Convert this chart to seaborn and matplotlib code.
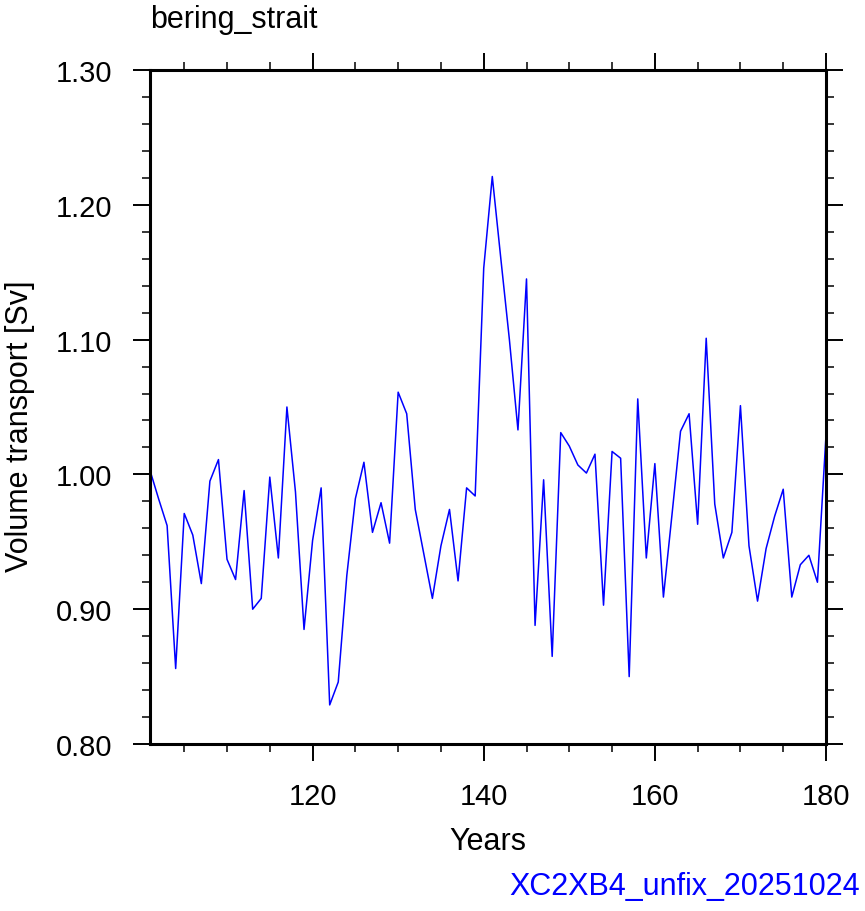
import numpy as np
import matplotlib
matplotlib.use('Agg')
import matplotlib.pyplot as plt
import seaborn as sns
from matplotlib.ticker import MultipleLocator, FormatStrFormatter

# 年份与海峡体积输运 (Sv)
years = np.arange(101, 181)
transport = [
    1.003, 0.982, 0.962, 0.856, 0.971, 0.955, 0.919, 0.995, 1.011, 0.937,
    0.922, 0.988, 0.900, 0.908, 0.998, 0.938, 1.050, 0.987, 0.885, 0.951,
    0.990, 0.829, 0.846, 0.925, 0.982, 1.009, 0.957, 0.979, 0.949, 1.061,
    1.045, 0.974, 0.941, 0.908, 0.947, 0.974, 0.921, 0.990, 0.984, 1.153,
    1.221, 1.160, 1.100, 1.033, 1.145, 0.888, 0.996, 0.865, 1.031, 1.021,
    1.007, 1.001, 1.015, 0.903, 1.017, 1.012, 0.850, 1.056, 0.938, 1.008,
    0.909, 0.970, 1.032, 1.045, 0.963, 1.101, 0.978, 0.938, 0.957, 1.051,
    0.947, 0.906, 0.945, 0.969, 0.989, 0.909, 0.933, 0.940, 0.920, 1.029,
]
title = 'bering_strait'
case_name = 'XC2XB4_unfix_20251024'

sns.set_style('ticks')
plt.rcParams['font.family'] = ['Liberation Sans', 'DejaVu Sans']
plt.rcParams['text.color'] = 'black'
plt.rcParams['axes.labelcolor'] = 'black'
plt.rcParams['xtick.color'] = 'black'
plt.rcParams['ytick.color'] = 'black'

W, H = 865, 912
fig = plt.figure(figsize=(W / 100, H / 100), dpi=100)
ax = fig.add_axes([150 / W, 1 - 745 / H, (826 - 150) / W, (745 - 71) / H])

sns.lineplot(x=years, y=transport, color='blue', linewidth=1.1, ax=ax)

ax.set_xlim(101, 180)
ax.set_ylim(0.80, 1.30)
ax.xaxis.set_major_locator(MultipleLocator(20))
ax.xaxis.set_minor_locator(MultipleLocator(5))
ax.yaxis.set_major_locator(MultipleLocator(0.1))
ax.yaxis.set_minor_locator(MultipleLocator(0.02))
ax.yaxis.set_major_formatter(FormatStrFormatter('%.2f'))

for s in ax.spines.values():
    s.set_visible(True)
    s.set_linewidth(2.2)
    s.set_color('black')

ax.tick_params(which='both', direction='out', top=True, right=True,
               colors='black', labelcolor='black', labelsize=21)
ax.tick_params(which='major', length=12.2, width=1.4)
ax.tick_params(which='minor', length=6, width=1.1)
ax.tick_params(axis='x', which='major', pad=15)
ax.tick_params(axis='y', which='major', pad=15)
ax.set_xlabel('')
ax.set_ylabel('')

fig.text(150 / W, 1 - 28 / H, title, fontsize=22, ha='left', va='baseline',
         color='black')
fig.text(488 / W, 1 - 842 / H, 'Years', fontsize=22, ha='center',
         va='center', color='black')
fig.text(20 / W, 1 - 426 / H, 'Volume transport [Sv]', fontsize=22,
         rotation=90, ha='center', va='center', color='black')
fig.text(860 / W, 1 - 887 / H, case_name, fontsize=22, color='blue',
         ha='right', va='center')

plt.savefig('out.png', dpi=100)
